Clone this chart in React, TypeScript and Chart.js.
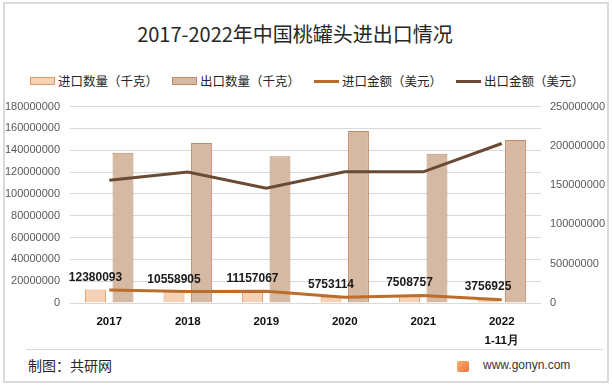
import React, { useEffect, useRef } from "react";
import { Chart, registerables } from "chart.js";

Chart.register(...registerables);

const categories: (string | string[])[] = ["2017", "2018", "2019", "2020", "2021", ["2022", "1-11月"]];
const importQty = [12380093, 10558905, 11157067, 5753114, 7508757, 3756925];
const exportQty = [137800000, 146700000, 134500000, 157700000, 136900000, 149400000];
const importAmt = [16600000, 14500000, 14900000, 7400000, 9500000, 4200000];
const exportAmt = [156200000, 166600000, 146000000, 167000000, 167000000, 203000000];
const seriesNames = ["进口数量（千克）", "出口数量（千克）", "进口金额（美元）", "出口金额（美元）"];
const titleText = "2017-2022年中国桃罐头进出口情况";

const C_IMP_FILL = "#F5D1B6";
const C_IMP_BORDER = "#E3995F";
const C_EXP_FILL = "#D6B9A3";
const C_EXP_BORDER = "#BF8B67";
const C_IMP_LINE = "#BC6D2C";
const C_EXP_LINE = "#6B4A34";

const CJK = '"Noto Sans CJK SC", "Noto Sans", sans-serif';
const LAT = '"Liberation Sans", Arial, sans-serif';

const labelPlugin = {
  id: "barLabels",
  afterDatasetsDraw(chart: any) {
    const meta = chart.getDatasetMeta(0);
    const ctx = chart.ctx;
    ctx.save();
    ctx.font = "bold 12px " + LAT;
    ctx.fillStyle = "#1a1a1a";
    ctx.textAlign = "center";
    ctx.textBaseline = "middle";
    meta.data.forEach((el: any, i: number) => {
      ctx.fillText(String(importQty[i]), el.x, el.y - 12);
    });
    ctx.restore();
  },
};

export default function App() {
  const ref = useRef<HTMLCanvasElement | null>(null);
  useEffect(() => {
    if (!ref.current) return;
    const chart = new Chart(ref.current, {
      type: "bar",
      data: {
        labels: categories as any,
        datasets: [
          {
            type: "bar",
            label: seriesNames[0],
            data: importQty,
            backgroundColor: C_IMP_FILL,
            borderColor: C_IMP_BORDER,
            borderWidth: 1,
            yAxisID: "y",
            order: 1,
            categoryPercentage: 0.7,
            barPercentage: 0.76,
          },
          {
            type: "bar",
            label: seriesNames[1],
            data: exportQty,
            backgroundColor: C_EXP_FILL,
            borderColor: C_EXP_BORDER,
            borderWidth: 1,
            yAxisID: "y",
            order: 1,
            categoryPercentage: 0.7,
            barPercentage: 0.76,
          },
          {
            type: "line",
            label: seriesNames[2],
            data: importAmt,
            borderColor: C_IMP_LINE,
            backgroundColor: C_IMP_LINE,
            borderWidth: 3,
            pointRadius: 0,
            tension: 0,
            yAxisID: "y1",
            order: 0,
          },
          {
            type: "line",
            label: seriesNames[3],
            data: exportAmt,
            borderColor: C_EXP_LINE,
            backgroundColor: C_EXP_LINE,
            borderWidth: 3,
            pointRadius: 0,
            tension: 0,
            yAxisID: "y1",
            order: 0,
          },
        ] as any,
      },
      options: {
        responsive: false,
        animation: false,
        layout: { padding: { top: 11, left: 0, right: 0, bottom: 0 } },
        plugins: { legend: { display: false }, title: { display: false }, tooltip: { enabled: false } },
        scales: {
          x: {
            grid: { display: false, drawTicks: false },
            border: { display: false },
            ticks: {
              padding: 9,
              color: "#111",
              font: { family: LAT, size: 11.5, weight: "bold", lineHeight: 1.65 } as any,
              maxRotation: 0,
              autoSkip: false,
            },
            afterFit: (s: any) => { s.height = 47; },
          },
          y: {
            position: "left",
            min: 0,
            max: 180000000,
            grid: { color: "#D9D9D9", drawTicks: false, lineWidth: 1 },
            border: { display: false },
            ticks: {
              stepSize: 20000000,
              padding: 10,
              color: "#595959",
              font: { family: LAT, size: 11 },
              callback: (v: any) => String(v),
            },
            afterFit: (s: any) => { s.width = 70; },
          },
          y1: {
            position: "right",
            min: 0,
            max: 250000000,
            grid: { display: false, drawTicks: false },
            border: { display: false },
            ticks: {
              stepSize: 50000000,
              padding: 9,
              color: "#595959",
              font: { family: LAT, size: 11 },
              callback: (v: any) => String(v),
            },
            afterFit: (s: any) => { s.width = 71; },
          },
        },
      } as any,
      plugins: [labelPlugin],
    });
    return () => chart.destroy();
  }, []);

  const legendItems = [
    { name: seriesNames[0], kind: "bar", fill: C_IMP_FILL, border: C_IMP_BORDER },
    { name: seriesNames[1], kind: "bar", fill: C_EXP_FILL, border: C_EXP_BORDER },
    { name: seriesNames[2], kind: "line", fill: C_IMP_LINE, border: C_IMP_LINE },
    { name: seriesNames[3], kind: "line", fill: C_EXP_LINE, border: C_EXP_LINE },
  ];

  return (
    <div style={{ position: "absolute", left: 0, top: 0, width: 612, height: 385, background: "#fff", overflow: "hidden" }}>
      <div style={{ position: "absolute", left: 3, top: 2, width: 602, height: 377, border: "2px solid #DADADA" }} />
      <div
        style={{
          position: "absolute",
          left: 0,
          top: 21,
          width: 590,
          textAlign: "center",
          fontFamily: CJK,
          fontSize: 20,
          lineHeight: "26px",
          color: "#262626",
          whiteSpace: "nowrap",
        }}
      >
        {titleText}
      </div>
      <div
        style={{
          position: "absolute",
          left: 0,
          top: 72,
          width: 614,
          height: 18,
          display: "flex",
          justifyContent: "center",
          alignItems: "center",
          fontFamily: CJK,
          fontSize: 12.5,
          color: "#262626",
          whiteSpace: "nowrap",
        }}
      >
        {legendItems.map((it, i) => (
          <div key={i} style={{ display: "flex", alignItems: "center", marginLeft: i === 0 ? 0 : 14 }}>
            {it.kind === "bar" ? (
              <div style={{ width: 23, height: 6, background: it.fill, border: "1px solid " + it.border }} />
            ) : (
              <div style={{ width: 25, height: 3, background: it.fill }} />
            )}
            <span style={{ marginLeft: 3, lineHeight: "18px" }}>{it.name}</span>
          </div>
        ))}
      </div>
      <canvas ref={ref} width={612} height={260} style={{ position: "absolute", left: 0, top: 90, width: 612, height: 260 }} />
      <div style={{ position: "absolute", left: 26, top: 349, width: 577, height: 1, background: "#D9D9D9" }} />
      <div
        style={{
          position: "absolute",
          left: 28,
          top: 356,
          fontFamily: CJK,
          fontSize: 14,
          lineHeight: "18px",
          color: "#262626",
          whiteSpace: "nowrap",
        }}
      >
        制图：共研网
      </div>
      <div
        style={{
          position: "absolute",
          left: 457,
          top: 361,
          width: 12,
          height: 11,
          borderRadius: 2,
          background: "linear-gradient(135deg, #F9B36A, #F0703C)",
        }}
      />
      <div
        style={{
          position: "absolute",
          left: 483,
          top: 357,
          fontFamily: LAT,
          fontSize: 12,
          lineHeight: "16px",
          color: "#333",
          whiteSpace: "nowrap",
        }}
      >
        www.gonyn.com
      </div>
    </div>
  );
}
